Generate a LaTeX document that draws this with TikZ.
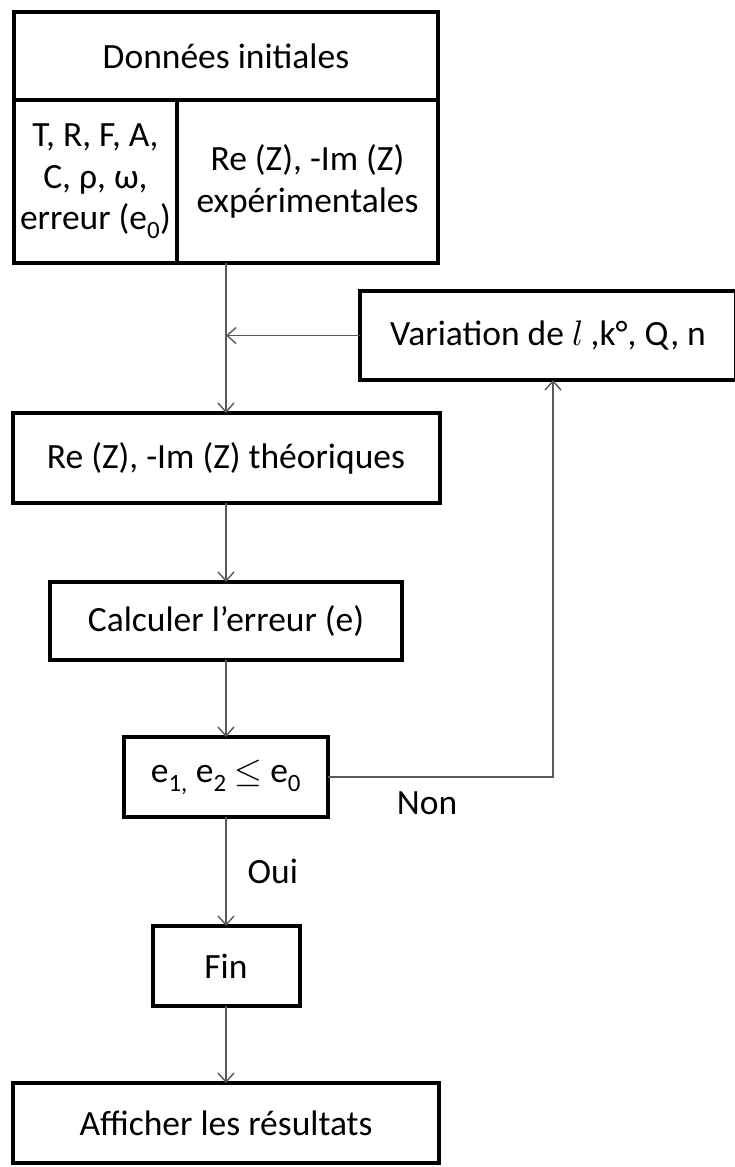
\documentclass[tikz,border=0pt]{standalone}
\usepackage{fontspec}
\usepackage{unicode-math}
\setmainfont{Carlito}
\setmathfont{Latin Modern Math}
\usepackage{tikz}
\usetikzlibrary{arrows.meta,positioning,calc}

\begin{document}
\begin{tikzpicture}[
  x=1pt, y=-1pt,
  font={\fontsize{35.5pt}{41.5pt}\selectfont},
  box/.style={draw, line width=4pt, align=center, inner sep=2pt, outer sep=0pt},
  ar/.style={-{Straight Barb[length=9pt, width=16pt, line width=1.4pt]}, line width=1.4pt, black!65},
  lbl/.style={inner sep=0pt, text=black},
]
\useasboundingbox (0,0) rectangle (735,1167);

% ---- donnees initiales ----
\node[box, minimum width=424pt, minimum height=88pt] (donnees) at (226,56) {Données initiales};
\node[box, minimum width=163pt, minimum height=163pt, anchor=north west] (params) at (donnees.south west)
  {T, R, F, A,\\C, ρ, ω,\\erreur (e\textsubscript{0})};
\node[box, minimum width=261pt, minimum height=163pt, anchor=north west] (exper) at (params.north east)
  {Re (Z), -Im (Z)\\expérimentales};
\coordinate (split) at (donnees.south |- params.south);

% ---- boucle principale ----
\node[box, minimum width=427pt, minimum height=90pt, below=150pt of split] (theo) {Re (Z), -Im (Z) théoriques};
\node[box, minimum width=352pt, minimum height=78pt, below=79pt of theo] (calc) {Calculer l’erreur (e)};
\node[box, minimum width=204pt, minimum height=80pt, below=77pt of calc] (test)
  {e\textsubscript{1,} e\textsubscript{2} $\leq$ e\textsubscript{0}};
\node[box, minimum width=147pt, minimum height=80pt, below=109pt of test] (fin) {Fin};
\node[box, minimum width=426pt, minimum height=80pt, below=77pt of fin] (res) {Afficher les résultats};

% ---- variation des parametres ----
\node[box, minimum width=376pt, minimum height=89pt, anchor=north west] (var) at (360,291)
  {Variation de $l$ ,k°, Q, n};

\draw[ar] (split) -- (theo);
\draw[ar] (var.west) -- (var.west -| theo.north);
\draw[ar] (theo) -- (calc);
\draw[ar] (calc) -- (test);
\draw[ar] (test) -- node[lbl, right=21pt]{Oui} (fin);
\draw[ar] (fin) -- (res);
\draw[ar] (test.east) -| node[lbl, pos=0.22, below=14pt]{Non} ([xshift=5pt]var.south);
\end{tikzpicture}
\end{document}
